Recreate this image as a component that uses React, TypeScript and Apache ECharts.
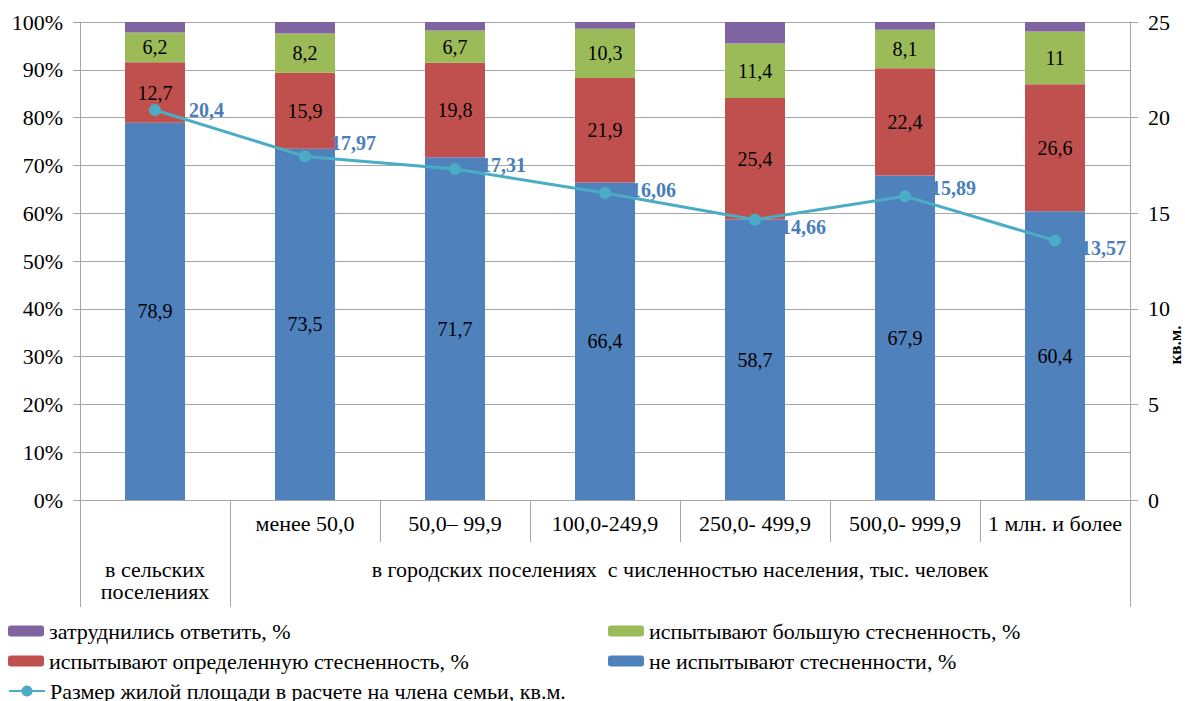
import React, { useEffect, useRef } from "react";
import * as echarts from "echarts";

const categories = ["", "менее 50,0", "50,0– 99,9", "100,0-249,9", "250,0- 499,9", "500,0- 999,9", "1 млн. и более"];
const groupLabels = ["в сельских\nпоселениях", "в городских поселениях  с численностью населения, тыс. человек"];
const notCramped = [78.9, 73.5, 71.7, 66.4, 58.7, 67.9, 60.4];
const someCramped = [12.7, 15.9, 19.8, 21.9, 25.4, 22.4, 26.6];
const veryCramped = [6.2, 8.2, 6.7, 10.3, 11.4, 8.1, 11];
const hardToSay = [2.2, 2.4, 1.8, 1.4, 4.5, 1.6, 2.0];
const livingSpace = [20.4, 17.97, 17.31, 16.06, 14.66, 15.89, 13.57];
const leftTicks = [0, 100, 10];
const rightTicks = [0, 25, 5];
const lineLabelOffsets = [[8, 0], [0, -13], [0, -4], [0, -3], [0, 7], [0, -8], [0, 7]];

const names = {
  hard: "затруднились ответить, %",
  very: "испытывают большую стесненность, %",
  some: "испытывают определенную стесненность, %",
  not: "не испытывают стесненности, %",
  line: "Размер жилой площади в расчете на члена семьи, кв.м.",
};

const FONT = "Liberation Serif";
const GRAY = "#a6a6a6";
const fmt = (v: number) => String(v).replace(".", ",");

export default function App() {
  const ref = useRef<HTMLDivElement>(null);
  useEffect(() => {
    if (!ref.current) return;
    const chart = echarts.init(ref.current, null, { renderer: "svg" });
    const barLabel = {
      show: true,
      position: "inside",
      color: "#000",
      fontFamily: FONT,
      fontSize: 20,
      formatter: (p: any) => fmt(p.value),
    };
    const legendCommon = {
      orient: "vertical",
      itemWidth: 36,
      itemHeight: 11,
      itemGap: 8,
      selectedMode: false,
      padding: 0,
      textStyle: { fontFamily: FONT, fontSize: 22, color: "#000" },
    };
    chart.setOption({
      animation: false,
      grid: { left: 80, right: 55, top: 22, bottom: 201, containLabel: false },
      legend: [
        { ...legendCommon, left: 8, top: 620, data: [names.hard, names.some] },
        { ...legendCommon, left: 608, top: 620, data: [names.very, names.not] },
        { ...legendCommon, left: 8, top: 680, itemHeight: 14, data: [names.line] },
      ],
      xAxis: [
        {
          type: "category",
          data: categories,
          axisLine: { show: true, lineStyle: { color: GRAY, width: 1 } },
          axisTick: { show: true, alignWithLabel: false, interval: 0, length: 42, lineStyle: { color: GRAY } },
          axisLabel: { interval: 0, margin: 12, color: "#000", fontFamily: FONT, fontSize: 22 },
          splitLine: { show: false },
        },
        {
          type: "value",
          min: 0,
          max: 7,
          position: "bottom",
          axisLine: { show: false },
          splitLine: { show: false },
          axisTick: { show: true, customValues: [0, 1, 7], length: 107, lineStyle: { color: GRAY } },
          axisLabel: {
            show: true,
            customValues: [0.5, 4],
            margin: 58,
            color: "#000",
            fontFamily: FONT,
            fontSize: 22,
            lineHeight: 22,
            formatter: (v: number) => (v < 1 ? groupLabels[0] : groupLabels[1]),
          },
        },
      ],
      yAxis: [
        {
          type: "value",
          min: leftTicks[0],
          max: leftTicks[1],
          interval: leftTicks[2],
          axisLine: { show: true, lineStyle: { color: GRAY } },
          axisTick: { show: true, length: 7, lineStyle: { color: GRAY } },
          splitLine: { show: true, lineStyle: { color: GRAY, width: 1 } },
          axisLabel: { formatter: "{value}%", margin: 17, color: "#000", fontFamily: FONT, fontSize: 22 },
        },
        {
          type: "value",
          position: "right",
          min: rightTicks[0],
          max: rightTicks[1],
          interval: rightTicks[2],
          axisLine: { show: true, lineStyle: { color: GRAY } },
          axisTick: { show: true, length: 8, lineStyle: { color: GRAY } },
          splitLine: { show: false },
          axisLabel: { margin: 18, color: "#000", fontFamily: FONT, fontSize: 22 },
        },
      ],
      graphic: [
        {
          type: "text",
          x: 1175,
          y: 345,
          rotation: Math.PI / 2,
          style: {
            text: "кв.м.",
            fontFamily: FONT,
            fontSize: 17,
            fontWeight: "bold",
            fill: "#000",
            align: "center",
            verticalAlign: "middle",
          },
        },
      ],
      series: [
        {
          name: names.not,
          type: "bar",
          stack: "s",
          barWidth: 60,
          data: notCramped,
          itemStyle: { color: "#4f81bd" },
          label: barLabel,
        },
        {
          name: names.some,
          type: "bar",
          stack: "s",
          barWidth: 60,
          data: someCramped,
          itemStyle: { color: "#c0504d" },
          label: barLabel,
        },
        {
          name: names.very,
          type: "bar",
          stack: "s",
          barWidth: 60,
          data: veryCramped,
          itemStyle: { color: "#9bbb59" },
          label: barLabel,
        },
        {
          name: names.hard,
          type: "bar",
          stack: "s",
          barWidth: 60,
          data: hardToSay,
          itemStyle: { color: "#8064a2" },
          label: { show: false },
        },
        {
          name: names.line,
          type: "line",
          yAxisIndex: 1,
          z: 5,
          symbol: "circle",
          symbolSize: 12,
          lineStyle: { color: "#4bacc6", width: 3 },
          itemStyle: { color: "#4bacc6" },
          data: livingSpace.map((v, i) => ({
            value: v,
            label: { offset: lineLabelOffsets[i] },
          })),
          label: {
            show: true,
            position: "right",
            distance: 20,
            color: "#4a7ebb",
            fontFamily: FONT,
            fontSize: 20,
            fontWeight: "bold",
            formatter: (p: any) => fmt(p.value),
          },
        },
      ],
    });
    return () => chart.dispose();
  }, []);
  return <div ref={ref} style={{ width: 1185, height: 701, position: "absolute", left: 0, top: 0 }} />;
}
